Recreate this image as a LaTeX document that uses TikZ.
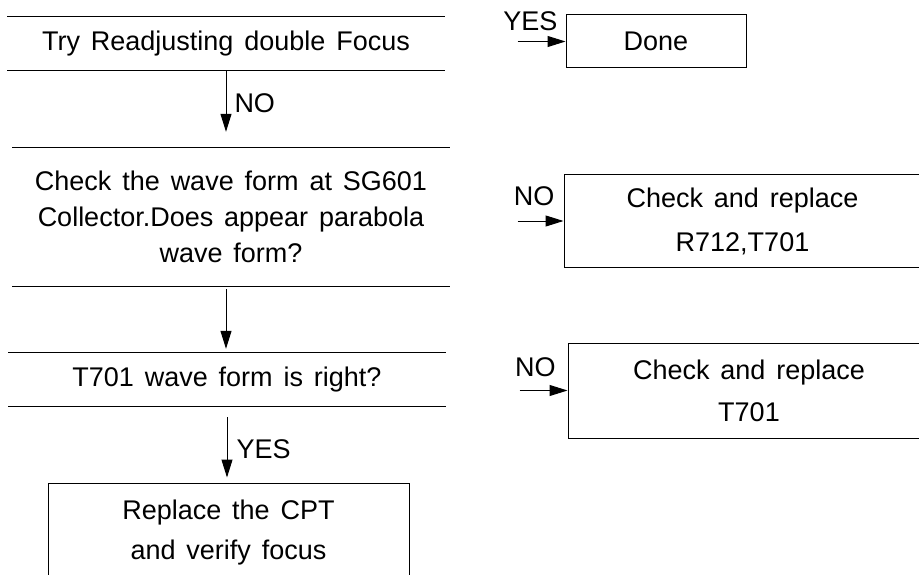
\documentclass[tikz,border=0pt]{standalone}
\usepackage{fontspec}
\setmainfont{Liberation Sans}[WordSpace=1.45]
\usepackage{tikz}
\usetikzlibrary{arrows.meta,positioning}
\definecolor{ink}{HTML}{000000}
\newcommand{\flowfont}{\fontsize{27}{36}\selectfont}
\tikzset{
  askrow/.style={minimum width=437pt,inner sep=0pt,align=center,font=\flowfont},
  flowbox/.style={draw=ink,line width=1pt,inner sep=0pt,align=center,font=\flowfont},
  flowarrow/.style={draw=ink,line width=1pt,-{Triangle[length=18pt,width=11pt]}},
  flowlabel/.style={font=\flowfont,inner sep=0pt}
}

\begin{document}
\begin{tikzpicture}[x=1pt,y=-1pt]
  \useasboundingbox (0,0) rectangle (919,575);
  \clip (0,0) rectangle (919,575);
  \node[askrow,minimum height=53pt] (try) at (226,43.5) {Try Readjusting double Focus};
  \node[askrow,minimum height=138pt] (wave) at (231,217)
    {Check the wave form at SG601\\Collector.Does appear parabola\\wave form?};
  \node[askrow,minimum height=53pt] (tform) at (227,379.5) {T701 wave form is right?};
  \node[flowbox,minimum width=361pt,minimum height=100pt] (cpt) at (228.5,533)
    {Replace the CPT\\[4pt]and verify focus};
  \node[flowbox,minimum width=180pt,minimum height=53pt] (done) at (656,41.5) {Done};
  \node[flowbox,minimum width=357pt,minimum height=92pt] (rtr) at (742.5,221)
    {Check and replace\\[8pt]R712,T701};
  \node[flowbox,minimum width=362pt,minimum height=95pt] (rt) at (749,390.5)
    {Check and replace\\[6pt]T701};

  \foreach \n in {try,wave,tform}
    \draw[ink,line width=1pt] (\n.north west) -- (\n.north east)
      (\n.south west) -- (\n.south east);

  \draw[flowarrow,shorten >=16pt] (try.south) --
    node[flowlabel,right=8pt,pos=0.42] {NO} (try.south |- wave.north);
  \draw[flowarrow,shorten <=3pt,shorten >=4pt] (try.south |- wave.south) --
    (try.south |- tform.north);
  \draw[flowarrow,shorten <=11pt,shorten >=5pt] (tform.south) --
    node[flowlabel,right=9pt,pos=0.57] {YES} (tform.south |- cpt.north);

  \coordinate[left=48pt of done.west] (yestail);
  \coordinate[left=46pt of rtr.west] (notail);
  \coordinate[left=48pt of rt.west] (notail2);
  \draw[flowarrow] (yestail) -- node[flowlabel,above=10pt,pos=0.27] {YES} (done.west);
  \draw[flowarrow] (notail) -- node[flowlabel,above=15pt,pos=0.36] {NO} (rtr.west);
  \draw[flowarrow] (notail2) -- node[flowlabel,above=13pt,pos=0.33] {NO} (rt.west);
\end{tikzpicture}
\end{document}
